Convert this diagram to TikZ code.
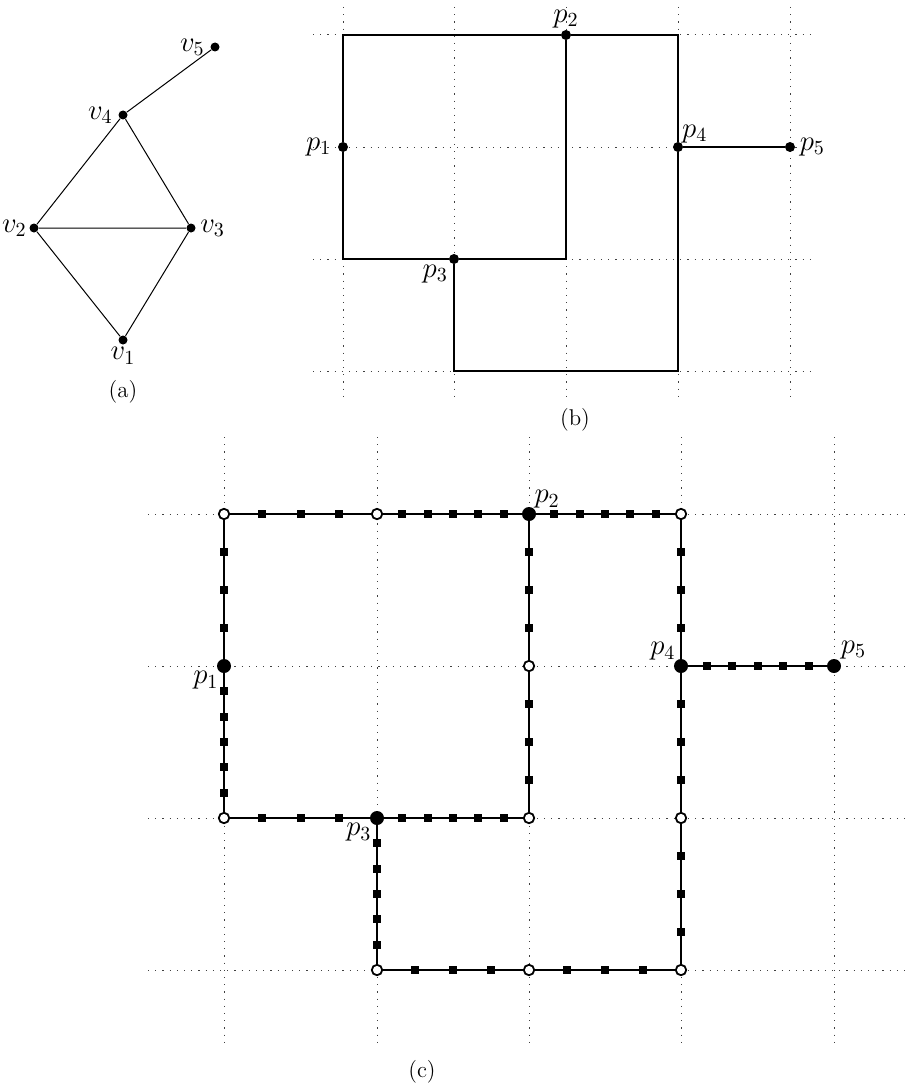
\documentclass[tikz,border=0pt]{standalone}
\usepackage{amsmath,amssymb}
\usepackage{tikz}
\usetikzlibrary{positioning,calc}

\begin{document}
\begin{tikzpicture}[
  x=0.5pt, y=-0.5pt,
  every label/.style={font=\Large, inner sep=1pt},
  vdot/.style={circle, fill=black, inner sep=0pt, minimum size=4.5pt},
  pdot/.style={circle, fill=black, inner sep=0pt, minimum size=5pt},
  bigdot/.style={circle, fill=black, inner sep=0pt, minimum size=7pt},
  hole/.style={circle, draw=black, line width=0.9pt, fill=white, inner sep=0pt, minimum size=5.2pt},
  sq/.style={rectangle, fill=black, inner sep=0pt, minimum size=4pt},
  gridline/.style={black!75, line width=0.5pt, dash pattern=on 0.6pt off 3pt},
  caption/.style={font=\fontsize{11.4}{14}\selectfont}
]
\useasboundingbox (0,0) rectangle (912,1086);

% (a)
\node[vdot, label={[label distance=1.5pt]left:$v_5$}] (v5) at (215,47) {};
\node[vdot, label={[label distance=1.5pt]left:$v_4$}] (v4) at (123,115) {};
\node[vdot, label={[label distance=0pt]left:$v_2$}] (v2) at (34,228) {};
\node[vdot, label={[label distance=1pt]right:$v_3$}] (v3) at (191,228) {};
\node[vdot, label={[label distance=0pt]below:$v_1$}] (v1) at (123,340) {};
\draw[line width=0.5pt] (v1) -- (v2) -- (v3) -- (v1);
\draw[line width=0.5pt] (v2) -- (v4) -- (v3);
\draw[line width=0.5pt] (v4) -- (v5);
\node[caption] (capa) at (123,392) {(a)};

% (b)
\foreach \x in {343,454,566,678,790} \draw[gridline] (\x,7) -- (\x,396);
\foreach \y in {35,147,259,371} \draw[gridline] (313,\y) -- (816,\y);
\node[pdot, label={[label distance=2pt]left:$p_1$}] (p1) at (343,147) {};
\node[pdot, label={[label distance=-0.5pt]above:$p_2$}] (p2) at (566,35) {};
\node[pdot, label={[label distance=0pt]below left:$p_3$}] (p3) at (454,259) {};
\node[pdot, label={[label distance=-1.5pt]above right:$p_4$}] (p4) at (678,147) {};
\node[pdot, label={[label distance=1pt]right:$p_5$}] (p5) at (790,147) {};
\coordinate (q) at (678,371);
\draw[line width=0.8pt] (p1) |- (p2);
\draw[line width=0.8pt] (p2) -| (p4);
\draw[line width=0.8pt] (p1) |- (p3);
\draw[line width=0.8pt] (p3) -| (p2);
\draw[line width=0.8pt] (p3) |- (q) -- (p4);
\draw[line width=0.8pt] (p4) -- (p5);
\node[caption] (capb) at (575,420) {(b)};

% (c)
\foreach \x in {224,377,529,681,834} \draw[gridline] (\x,437) -- (\x,1045);
\foreach \y in {514,666,818,970} \draw[gridline] (148,\y) -- (910,\y);
\node[hole] (c00) at (224,514) {};
\node[hole] (c10) at (377,514) {};
\node[bigdot, label={[label distance=-1.5pt]above right:$p_2$}] (c20) at (529,514) {};
\node[hole] (c30) at (681,514) {};
\node[bigdot, label={[label distance=-1.5pt]below left:$p_1$}] (c01) at (224,666) {};
\node[hole] (c21) at (529,666) {};
\node[bigdot, label={[label distance=-1.5pt]above left:$p_4$}] (c31) at (681,666) {};
\node[bigdot, label={[label distance=-0.5pt]above right:$p_5$}] (c41) at (834,666) {};
\node[hole] (c02) at (224,818) {};
\node[bigdot, label={[label distance=-1.5pt]below left:$p_3$}] (c12) at (377,818) {};
\node[hole] (c22) at (529,818) {};
\node[hole] (c32) at (681,818) {};
\node[hole] (c13) at (377,970) {};
\node[hole] (c23) at (529,970) {};
\node[hole] (c33) at (681,970) {};
\foreach \a/\b/\k in {c00/c10/3, c10/c20/5, c20/c30/5, c00/c01/3, c01/c02/5,
    c20/c21/3, c21/c22/3, c02/c12/3, c12/c22/5, c30/c31/3, c31/c32/3,
    c31/c41/5, c12/c13/5, c13/c23/3, c23/c33/3, c32/c33/3} {
  \draw[line width=1.1pt] (\a) -- (\b);
  \foreach \i in {1,...,\k}
    \node[sq] at ($(\a)!{\i/(\k+1)}!(\b)$) {};
}
\node[caption] (capc) at (422,1072) {(c)};
\end{tikzpicture}
\end{document}
